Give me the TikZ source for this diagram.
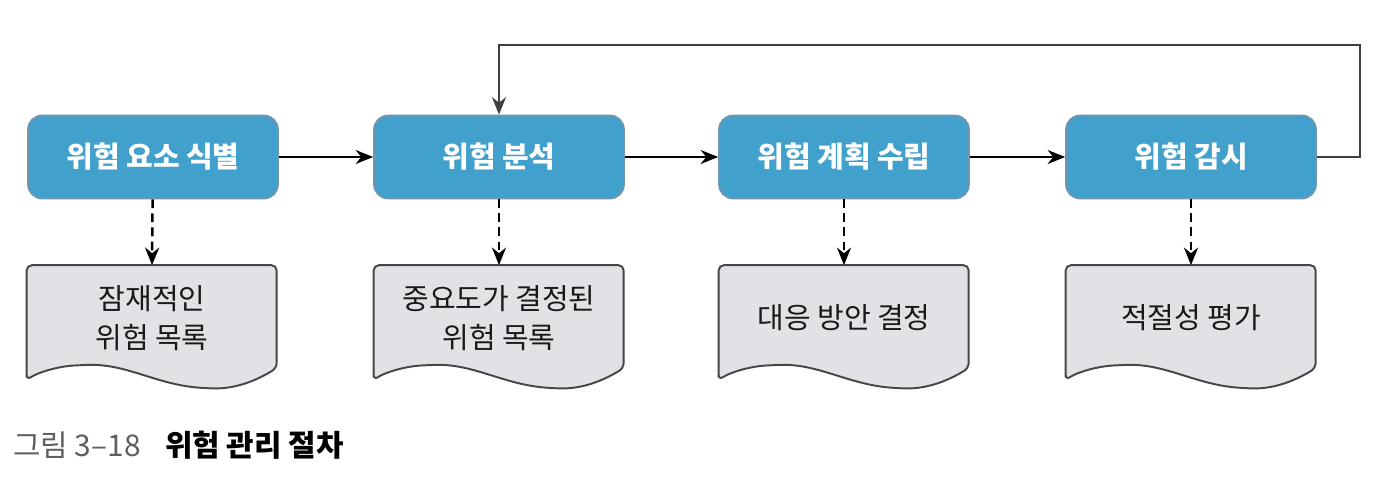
\documentclass[tikz,border=0pt]{standalone}
\usepackage{fontspec}
\setmainfont{Noto Sans CJK KR}
\usepackage{tikz}
\usetikzlibrary{positioning,calc,arrows.meta,backgrounds}

\definecolor{boxblue}{RGB}{66,160,204}
\definecolor{boxedge}{RGB}{110,150,175}
\definecolor{docfill}{RGB}{226,226,230}
\definecolor{docedge}{RGB}{70,70,70}
\definecolor{capgray}{RGB}{95,95,95}

\tikzset{
    stagebox/.style = {rectangle, rounded corners=8pt, fill=boxblue, draw=boxedge, line width=1pt,
        minimum width=5cm, minimum height=1.66cm, text=white, font=\fontsize{16.5}{19}\selectfont\bfseries},
    docbox/.style = {rectangle, minimum width=5cm, minimum height=2.1cm, align=center,
        text=black!90, font=\fontsize{16.5}{22.5}\selectfont},
    flow/.style = {line width=1pt, -{Stealth[length=10pt, width=8pt]}},
    result/.style = {line width=1.4pt, dash pattern=on 5pt off 3pt, -{Stealth[length=10pt, width=8pt]}},
}

\begin{document}
\begin{tikzpicture}[x=0.02cm, y=-0.02cm]
    \useasboundingbox (0, 0) rectangle (1386, 480);
    % process stages
    \node[stagebox] (s1) at (153, 157) {위험 요소 식별};
    \node[stagebox] (s2) at (499, 157) {위험 분석};
    \node[stagebox] (s3) at (844, 157) {위험 계획 수립};
    \node[stagebox] (s4) at (1191, 157) {위험 감시};
    % outputs
    \node[docbox] (d1) at (152, 318) {잠재적인\\위험 목록};
    \node[docbox] (d2) at (499, 318) {중요도가 결정된\\위험 목록};
    \node[docbox] (d3) at (844, 318) {대응 방안 결정};
    \node[docbox] (d4) at (1191, 318) {적절성 평가};
    \begin{scope}[on background layer]
    \foreach \d in {d1, d2, d3, d4} {
        \begin{scope}[shift={(\d.north west)}]
        \draw[fill=docfill, draw=docedge, line width=1.1pt, rounded corners=3pt]
            (0, 115) -- (0, 0) -- (250, 0) -- (250, 103)
            .. controls (225, 118) and (205, 124) .. (180, 123)
            .. controls (130, 120) and (100, 98) .. (55, 100)
            .. controls (30, 101) and (10, 108) .. (0, 115) -- cycle;
        \end{scope}
    }
    \end{scope}
    % connectors
    \draw[flow] (s1) -- (s2);
    \draw[flow] (s2) -- (s3);
    \draw[flow] (s3) -- (s4);
    \coordinate (back) at (1360, 45);
    \draw[flow, draw=black!75] (s4.east) -| (back) -| (s2.north);
    \draw[result] (s1) -- (d1.north);
    \draw[result] (s2) -- (d2.north);
    \draw[result] (s3) -- (d3.north);
    \draw[result] (s4) -- (d4.north);
    % caption
    \node[anchor=west, font=\fontsize{17}{20}\selectfont] (cap) at (7, 445)
        {\textcolor{capgray}{그림 3–18}\hspace{14pt}{\bfseries 위험 관리 절차}};
\end{tikzpicture}
\end{document}
